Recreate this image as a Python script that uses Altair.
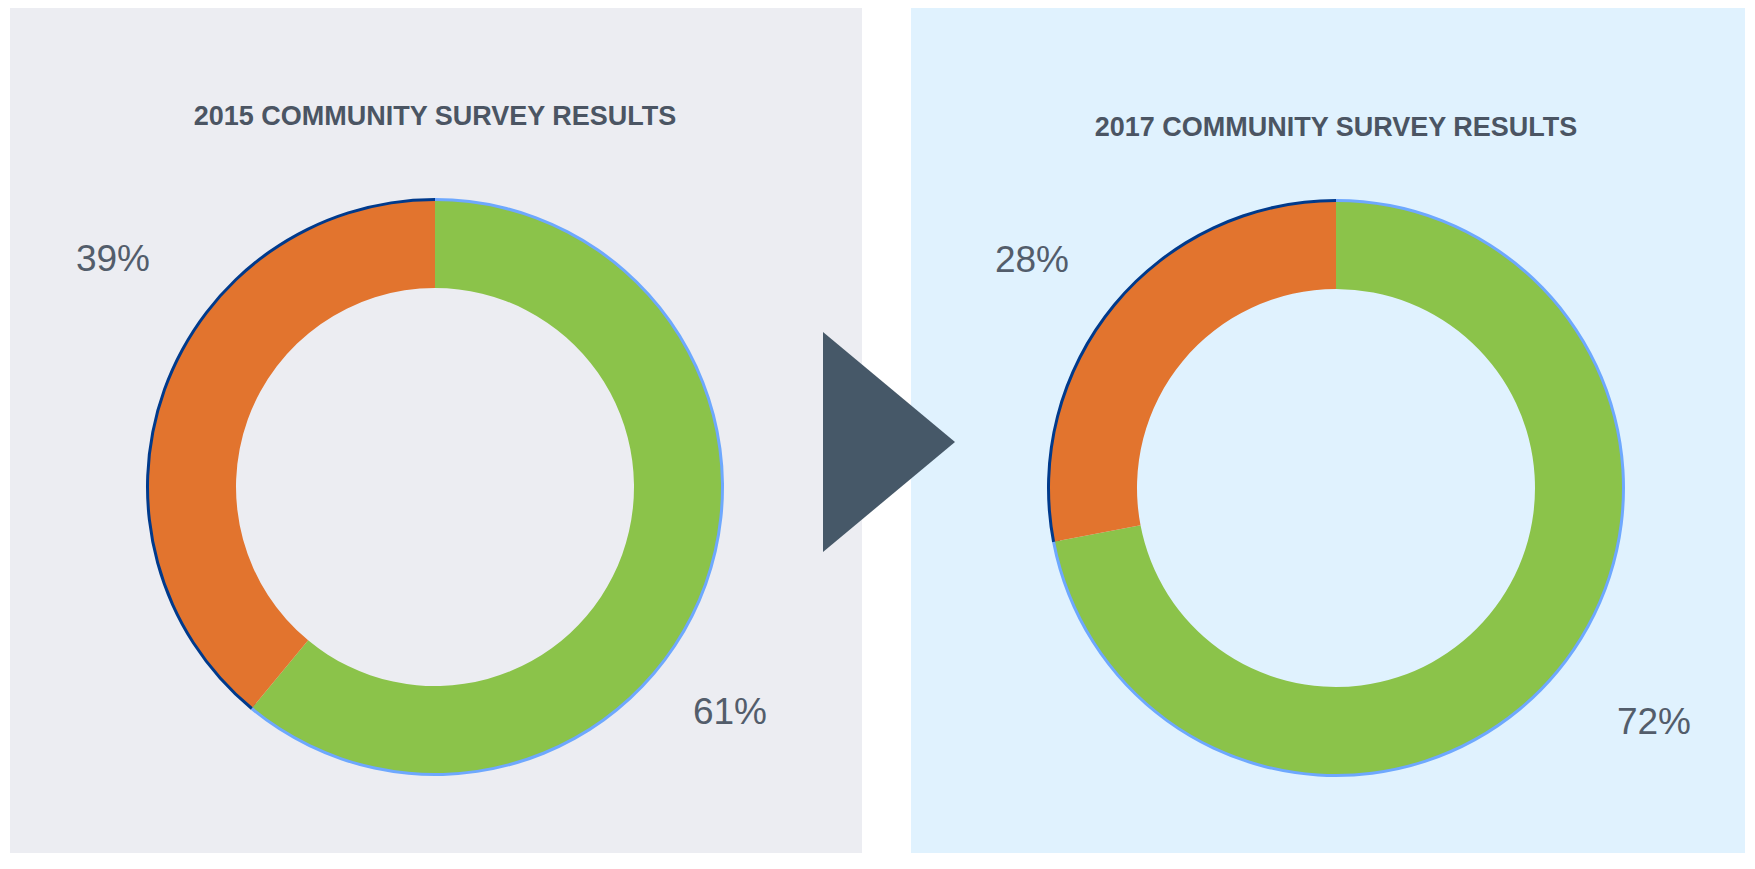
import altair as alt
import pandas as pd

# ---- data ----
categories = ["Positive", "Negative"]
values_2015 = [61, 39]
values_2017 = [72, 28]
titles = ["2015 COMMUNITY SURVEY RESULTS", "2017 COMMUNITY SURVEY RESULTS"]

ring_colors = ["#8bc34a", "#e2742e"]
edge_colors = ["#6ea8fe", "#003a8c"]
text_color = "#4b5563"
label_color = "#535d6b"
FONT = "Liberation Sans"


def panel(values, title, bg, width, height, cx, cy, title_y, label_pos, extra=None):
    df = pd.DataFrame({"category": categories, "value": values, "order": [0, 1]})
    base = alt.Chart(df)
    theta = alt.Theta("value:Q", stack=True)
    order = alt.Order("order:Q")

    under = base.mark_arc(outerRadius=289, innerRadius=281).encode(
        theta=theta, order=order,
        color=alt.Color("category:N", scale=alt.Scale(domain=categories, range=edge_colors), legend=None),
        x=alt.value(cx), y=alt.value(cy),
    )
    ring = base.mark_arc(outerRadius=286, innerRadius=199).encode(
        theta=theta, order=order,
        color=alt.Color("category:N", scale=alt.Scale(domain=categories, range=ring_colors), legend=None),
        x=alt.value(cx), y=alt.value(cy),
    )
    layers = [under, ring]
    for cat, (lx, ly) in zip(categories, label_pos):
        lab = base.transform_filter(alt.datum.category == cat).transform_calculate(
            label="datum.value + '%'"
        ).mark_text(
            font=FONT, fontSize=37, fontWeight="normal", color=label_color,
            align="center", baseline="alphabetic",
        ).encode(text="label:N", x=alt.value(lx), y=alt.value(ly))
        layers.append(lab)

    ttl = alt.Chart(pd.DataFrame({"title": [title]})).mark_text(
        font=FONT, fontSize=27, fontWeight="bold", color=text_color,
        align="center", baseline="middle",
    ).encode(text="title:N", x=alt.value(cx), y=alt.value(title_y))
    layers.append(ttl)
    if extra is not None:
        layers.append(extra)

    return alt.layer(*layers).resolve_scale(color="independent").properties(
        width=width, height=height,
        view=alt.ViewBackground(fill=bg, stroke=None),
    )


arrow = alt.Chart(pd.DataFrame({"arrow": ["next"]})).mark_point(
    shape="M-0.6,-1L0.6,0L-0.6,1Z", size=48400, filled=True,
    color="#465868", opacity=1, strokeWidth=0,
).encode(x=alt.value(-22), y=alt.value(434))

left = panel(values_2015, titles[0], "#ecedf2", 852, 845, 425, 479, 109,
             [(720, 716), (103, 263)])
right = panel(values_2017, titles[1], "#e0f2fe", 834, 845, 425, 480, 120,
              [(743, 726), (121, 264)], extra=arrow)

chart = alt.hconcat(left, right, spacing=49, bounds="flush").properties(
    padding={"left": 2, "top": 0, "right": 0, "bottom": 0}
).configure_view(stroke=None)

chart.save("out.html", embed_options={"renderer": "svg", "actions": False})
